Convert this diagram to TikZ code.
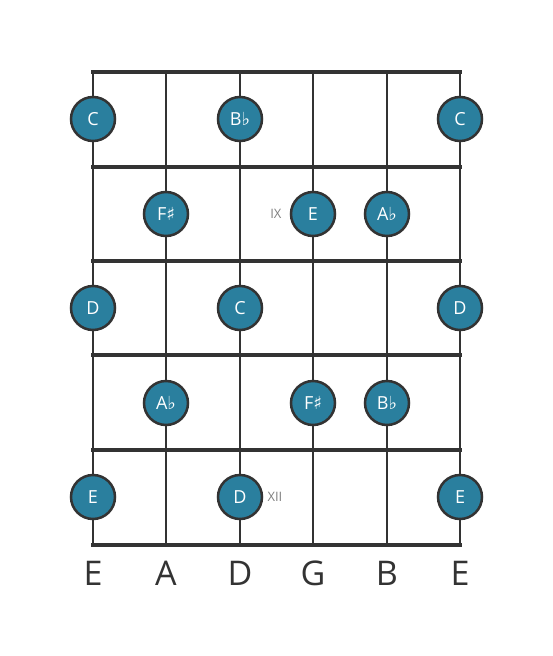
\documentclass[tikz,border=0pt]{standalone}
\usepackage{fontspec}
\setmainfont{Open Sans}
\newfontfamily\accfont{DejaVu Sans}
\definecolor{noteblue}{HTML}{2A7F9E}
\definecolor{gridgray}{HTML}{333333}
\newcommand{\fl}{{\accfont\char"266D}}
\newcommand{\sh}{{\accfont\char"266F}}
\begin{document}
\begin{tikzpicture}[x=1pt,y=-1pt]
			\useasboundingbox (0,0) rectangle (553,656);
			% strings
			\draw[gridgray,line width=2.5pt] (93,72) -- (93,545);
			\draw[gridgray,line width=2.5pt] (166,72) -- (166,545);
			\draw[gridgray,line width=2.5pt] (240,72) -- (240,545);
			\draw[gridgray,line width=2.5pt] (313,72) -- (313,545);
			\draw[gridgray,line width=2.5pt] (387,72) -- (387,545);
			\draw[gridgray,line width=2.5pt] (460,72) -- (460,545);
			% frets
			\draw[gridgray,line width=4.5pt] (91,72) -- (462,72);
			\draw[gridgray,line width=4.5pt] (91,167) -- (462,167);
			\draw[gridgray,line width=4.5pt] (91,261) -- (462,261);
			\draw[gridgray,line width=4.5pt] (91,355) -- (462,355);
			\draw[gridgray,line width=4.5pt] (91,450) -- (462,450);
			\draw[gridgray,line width=4.5pt] (91,545) -- (462,545);
			\begin{scope}[shape=circle,minimum size=44pt,inner sep=0pt]
				\tikzstyle{every node}=[draw=gridgray,line width=2.5pt,fill=noteblue,text=white,font=\fontsize{18}{18}\selectfont]
				\node (C_1) at (93,119) {C};
				\node (Bb_1) at (240,119) {B\fl};
				\node (C_2) at (460,119) {C};
				\node (Fs_1) at (166,214) {F\sh};
				\node (E_1) at (313,214) {E};
				\node (Ab_1) at (387,214) {A\fl};
				\node (D_1) at (93,308) {D};
				\node (C_3) at (240,308) {C};
				\node (D_2) at (460,308) {D};
				\node (Ab_2) at (166,403) {A\fl};
				\node (Fs_2) at (313,403) {F\sh};
				\node (Bb_2) at (387,403) {B\fl};
				\node (E_2) at (93,497) {E};
				\node (D_3) at (240,497) {D};
				\node (E_3) at (460,497) {E};
			\end{scope}
			% fret markers
			\node[text=gray,font=\fontsize{13}{13}\selectfont,anchor=east] (IX) at (285,214) {IX};
			\node[text=gray,font=\fontsize{13}{13}\selectfont,anchor=west] (XII) at (264,497) {XII};
			% tuning
			\begin{scope}[font=\fontsize{34}{34}\selectfont,text=gridgray]
				\node (S_1) at (93,573) {E};
				\node (S_2) at (166,573) {A};
				\node (S_3) at (240,573) {D};
				\node (S_4) at (313,573) {G};
				\node (S_5) at (387,573) {B};
				\node (S_6) at (460,573) {E};
			\end{scope}
		\end{tikzpicture}
\end{document}
